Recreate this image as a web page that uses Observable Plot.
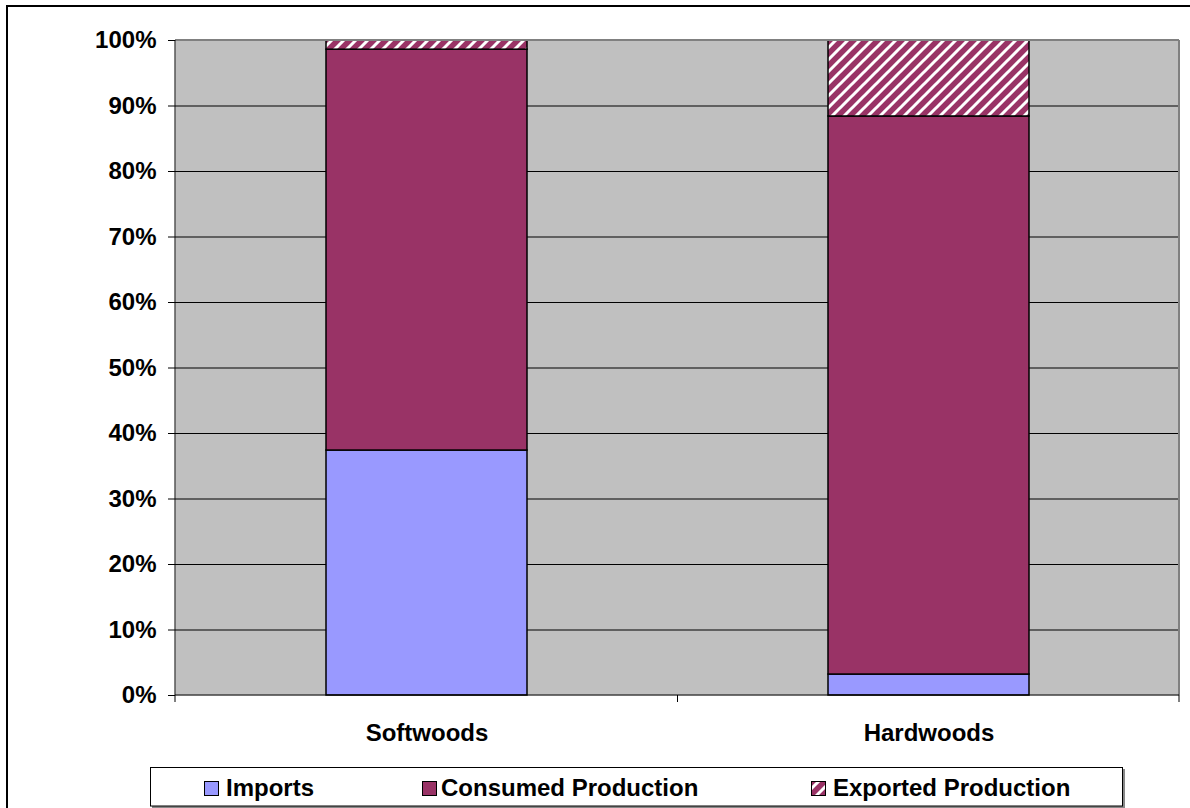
<!DOCTYPE html>
<html>
<head>
<meta charset="utf-8">
<script src="https://cdn.jsdelivr.net/npm/d3@7"></script>
<script src="https://cdn.jsdelivr.net/npm/@observablehq/plot@0.6"></script>
<style>
  html, body { margin: 0; padding: 0; background: #fff; overflow: hidden; }
  #wrap { position: relative; width: 1190px; height: 808px; overflow: hidden;
          font-family: "Liberation Sans", Arial, sans-serif; }
  #outer { position: absolute; left: 6px; top: 5px; width: 1200px; height: 820px;
           border: 2px solid #000; box-sizing: border-box; }
  #chart { position: absolute; left: 0; top: 0; }
  #legend { position: absolute; left: 0; top: 760px; }
</style>
</head>
<body>
<svg width="0" height="0" style="position:absolute">
  <defs>
    <pattern id="hatch" patternUnits="userSpaceOnUse" width="12" height="12">
      <rect width="12" height="12" fill="#993366"></rect>
      <path d="M-3,3 L3,-3 M0,12 L12,0 M9,15 L15,9" stroke="#ffffff" stroke-width="3"></path>
    </pattern>
  </defs>
</svg>
<div id="wrap">
  <div id="outer"></div>
  <div id="chart"></div>
  <div id="legend"></div>
</div>
<script>
// Share of supply (%) by wood type
const categories = ["Softwoods", "Hardwoods"];
const seriesNames = ["Imports", "Consumed Production", "Exported Production"];
const imports = [37.4, 3.2];
const consumed = [61.2, 85.2];
const exported = [1.4, 11.6];
const yTicks = [0, 10, 20, 30, 40, 50, 60, 70, 80, 90, 100];
const seriesFills = ["#9999FF", "#993366", "url(#hatch)"];

const seriesValues = [imports, consumed, exported];
const rows = [];
categories.forEach((cat, i) => {
  seriesNames.forEach((s, j) => rows.push({category: cat, series: s, value: seriesValues[j][i]}));
});

const font = "'Liberation Sans', Arial, sans-serif";

// Plot-area border: black value axis on the left, grey edge top and right,
// plus category-boundary ticks below the axis.
function plotEdges(index, scales, values, dims) {
  const {width, height, marginLeft, marginRight, marginTop, marginBottom} = dims;
  const x = scales.x;
  const left = marginLeft, right = width - marginRight, bottom = height - marginBottom;
  const centers = categories.map(c => x(c) + x.bandwidth() / 2);
  const bounds = [left];
  for (let i = 1; i < centers.length; i++) bounds.push((centers[i - 1] + centers[i]) / 2);
  bounds.push(right);
  const g = d3.create("svg:g");
  g.append("line").attr("x1", left).attr("x2", right).attr("y1", marginTop).attr("y2", marginTop)
    .attr("stroke", "#808080").attr("stroke-width", 2);
  g.append("line").attr("x1", right).attr("x2", right).attr("y1", marginTop).attr("y2", bottom)
    .attr("stroke", "#808080").attr("stroke-width", 2);
  g.append("line").attr("x1", left).attr("x2", left).attr("y1", marginTop).attr("y2", bottom)
    .attr("stroke", "#000").attr("stroke-width", 1);
  g.append("line").attr("x1", left).attr("x2", right).attr("y1", bottom).attr("y2", bottom)
    .attr("stroke", "#000").attr("stroke-width", 1);
  g.selectAll("line.bt").data(bounds).join("line").attr("class", "bt")
    .attr("x1", d => d).attr("x2", d => d).attr("y1", bottom).attr("y2", bottom + 7)
    .attr("stroke", "#000").attr("stroke-width", 1);
  return g.node();
}

const chart = Plot.plot({
  width: 1190,
  height: 760,
  marginTop: 40,
  marginLeft: 175,
  marginRight: 11,
  marginBottom: 65,
  style: {fontFamily: font, fontWeight: "bold", fontSize: "24px", color: "#000", background: "transparent"},
  x: {domain: categories, paddingInner: 0.6, paddingOuter: 0.3, label: null},
  y: {domain: [0, 100], label: null},
  color: {domain: seriesNames, range: seriesFills},
  marks: [
    Plot.frame({fill: "#C0C0C0", stroke: null}),
    Plot.ruleY(yTicks.filter(t => t > 0 && t < 100), {stroke: "#000", strokeWidth: 1}),
    Plot.barY(rows, {
      x: "category", y: "value", fill: "series", z: "series",
      order: seriesNames, stroke: "#000", strokeWidth: 1.5
    }),
    plotEdges,
    Plot.axisY({ticks: yTicks, tickFormat: d => d + "%", tickSize: 7, tickPadding: 12,
      fontSize: 24, fontWeight: "bold", label: null}),
    Plot.axisX({tickSize: 0, tickPadding: 28, fontSize: 24, fontWeight: "bold", label: null})
  ]
});
document.getElementById("chart").appendChild(chart);

// Legend below the chart
const legendItems = [
  {name: seriesNames[0], fill: seriesFills[0], sx: 204, tx: 226},
  {name: seriesNames[1], fill: seriesFills[1], sx: 422, tx: 441},
  {name: seriesNames[2], fill: seriesFills[2], sx: 811, tx: 833}
];
const leg = d3.create("svg").attr("width", 1190).attr("height", 48)
  .style("font-family", font).style("font-weight", "bold").style("font-size", "24px");
leg.append("line").attr("x1", 152).attr("x2", 1124).attr("y1", 47).attr("y2", 47)
  .attr("stroke", "#888").attr("stroke-width", 2);
leg.append("line").attr("x1", 1124).attr("x2", 1124).attr("y1", 9).attr("y2", 48)
  .attr("stroke", "#888").attr("stroke-width", 2);
leg.append("rect").attr("x", 150.5).attr("y", 7.5).attr("width", 972).attr("height", 38.5)
  .attr("fill", "#fff").attr("stroke", "#000").attr("stroke-width", 1);
const item = leg.selectAll("g.item").data(legendItems).join("g").attr("class", "item");
item.append("rect").attr("x", d => d.sx + 0.5).attr("y", 21.5).attr("width", 14).attr("height", 14)
  .attr("fill", d => d.fill).attr("stroke", "#000").attr("stroke-width", 1);
item.append("text").attr("x", d => d.tx).attr("y", 36).attr("fill", "#000").text(d => d.name);
document.getElementById("legend").appendChild(leg.node());
</script>
</body>
</html>
